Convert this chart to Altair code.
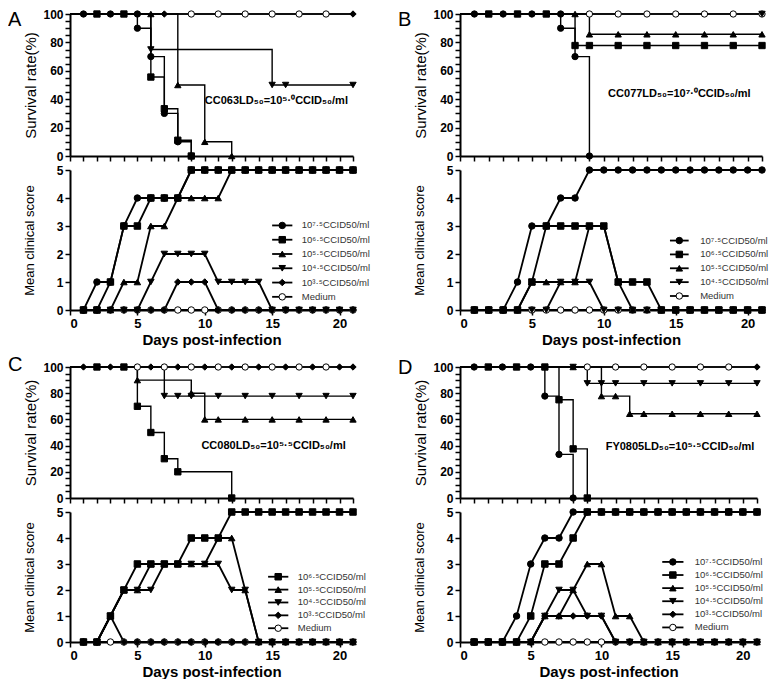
import altair as alt
import pandas as pd

DAYS = [1, 2, 3, 4, 5, 6, 7, 8, 9, 10, 11, 12, 13, 14, 15, 16, 17, 18, 19, 20, 21]
SERIES = ["7.5", "6.5", "5.5", "4.5", "3.5", "Medium"]
SHAPES = ["circle", "square", "triangle-up", "triangle-down", "diamond", "circle"]
FILLS = ["black", "black", "black", "black", "black", "white"]
LABELS = ["10⁷·⁵CCID50/ml", "10⁶·⁵CCID50/ml", "10⁵·⁵CCID50/ml",
          "10⁴·⁵CCID50/ml", "10³·⁵CCID50/ml", "Medium"]
X_TICKS = [0, 5, 10, 15, 20]
X_MINOR = list(range(0, 22))
Y_SURV_TICKS = [0, 5, 10, 15, 20, 25, 30, 35, 40, 45, 50, 55, 60, 65, 70, 75, 80, 85, 90, 95, 100]
Y_SCORE_TICKS = [0, 1, 2, 3, 4, 5]

# ---------------- Panel A: clinical scores ----------------
A_SC_75 = [0, 1, 1, 3, 4, 4, 4, 4, 5, 5, 5, 5, 5, 5, 5, 5, 5, 5, 5, 5, 5]
A_SC_65 = [0, 0, 1, 3, 3, 4, 4, 4, 5, 5, 5, 5, 5, 5, 5, 5, 5, 5, 5, 5, 5]
A_SC_55 = [0, 0, 0, 1, 1, 3, 3, 4, 4, 4, 4, 5, 5, 5, 5, 5, 5, 5, 5, 5, 5]
A_SC_45 = [0, 0, 0, 0, 0, 1, 2, 2, 2, 2, 1, 1, 1, 1, 0, 0, 0, 0, 0, 0, 0]
A_SC_35 = [0, 0, 0, 0, 0, 0, 0, 1, 1, 1, 0, 0, 0, 0, 0, 0, 0, 0, 0, 0, 0]
A_SC_MED = [0, 0, 0, 0, 0, 0, 0, 0, 0, 0, 0, 0, 0, 0, 0, 0, 0, 0, 0, 0, 0]
# Panel A: survival steps (day, %) and markers
A_SV_75 = ([0, 5, 6, 7, 8, 9], [100, 90, 70, 30, 10, 0])
A_SV_65 = ([0, 6, 7, 8, 9], [100, 55.6, 33.3, 11.1, 0])
A_SV_55 = ([0, 8, 10, 12], [100, 50, 10, 0])
A_SV_45 = ([0, 6, 15, 21], [100, 75, 50, 50])
A_SV_35 = ([0, 21], [100, 100])
A_SV_MED = ([0, 21], [100, 100])
A_MK_75 = ([1, 3, 5, 5, 6, 7, 8, 9], [100, 100, 100, 90, 70, 30, 10, 0])
A_MK_65 = ([2, 4, 6, 7, 8, 9], [100, 100, 55.6, 33.3, 11.1, 0])
A_MK_55 = ([6, 8, 10, 12], [100, 50, 10, 0])
A_MK_45 = ([6, 15, 16, 21], [75, 50, 50, 50])
A_MK_35 = ([7, 21], [100, 100])
A_MK_MED = ([9, 11, 13, 15, 17, 19], [100, 100, 100, 100, 100, 100])

# ---------------- Panel B ----------------
B_SC_75 = [0, 0, 0, 1, 3, 3, 4, 4, 5, 5, 5, 5, 5, 5, 5, 5, 5, 5, 5, 5, 5]
B_SC_65 = [0, 0, 0, 0, 1, 3, 3, 3, 3, 3, 1, 1, 1, 0, 0, 0, 0, 0, 0, 0, 0]
B_SC_55 = [0, 0, 0, 0, 1, 1, 1, 1, 3, 3, 1, 0, 0, 0, 0, 0, 0, 0, 0, 0, 0]
B_SC_45 = [0, 0, 0, 0, 0, 0, 1, 1, 1, 0, 0, 0, 0, 0, 0, 0, 0, 0, 0, 0, 0]
B_SC_MED = [0, 0, 0, 0, 0, 0, 0, 0, 0, 0, 0, 0, 0, 0, 0, 0, 0, 0, 0, 0, 0]
B_SV_75 = ([0, 7, 8, 9], [100, 90, 70, 0])
B_SV_65 = ([0, 8, 21], [100, 77.8, 77.8])
B_SV_55 = ([0, 9, 21], [100, 85.7, 85.7])
B_SV_45 = ([0, 21], [100, 100])
B_SV_MED = ([0, 21], [100, 100])
B_MK_75 = ([1, 3, 5, 7, 7, 8, 9], [100, 100, 100, 100, 90, 70, 0])
B_MK_65 = ([2, 4, 6, 8, 9, 11, 13, 15, 17, 19, 21], [100, 100, 100, 77.8, 77.8, 77.8, 77.8, 77.8, 77.8, 77.8, 77.8])
B_MK_55 = ([8, 9, 11, 13, 15, 17, 19, 21], [100, 85.7, 85.7, 85.7, 85.7, 85.7, 85.7, 85.7])
B_MK_45 = ([21], [100])
B_MK_MED = ([9, 11, 13, 15, 17, 19, 21], [100, 100, 100, 100, 100, 100, 100])

# ---------------- Panel C ----------------
C_SC_65 = [0, 0, 1, 2, 3, 3, 3, 3, 4, 4, 4, 5, 5, 5, 5, 5, 5, 5, 5, 5, 5]
C_SC_55 = [0, 0, 1, 2, 2, 3, 3, 3, 3, 3, 4, 4, 2, 0, 0, 0, 0, 0, 0, 0, 0]
C_SC_45 = [0, 0, 1, 2, 2, 2, 3, 3, 3, 3, 3, 2, 2, 0, 0, 0, 0, 0, 0, 0, 0]
C_SC_35 = [0, 0, 1, 0, 0, 0, 0, 0, 0, 0, 0, 0, 0, 0, 0, 0, 0, 0, 0, 0, 0]
C_SC_MED = [0, 0, 0, 0, 0, 0, 0, 0, 0, 0, 0, 0, 0, 0, 0, 0, 0, 0, 0, 0, 0]
C_SV_65 = ([0, 5, 6, 7, 8, 12], [100, 70, 50, 30, 20, 0])
C_SV_55 = ([0, 5, 9, 10, 21], [100, 90, 80, 60, 60])
C_SV_45 = ([0, 7, 21], [100, 77.8, 77.8])
C_SV_35 = ([0, 21], [100, 100])
C_SV_MED = ([0, 21], [100, 100])
C_MK_65 = ([2, 4, 5, 6, 7, 8, 12], [100, 100, 70, 50, 30, 20, 0])
C_MK_55 = ([5, 9, 10, 11, 13, 15, 17, 19, 21], [90, 80, 60, 60, 60, 60, 60, 60, 60])
C_MK_45 = ([7, 8, 9, 11, 13, 15, 17, 19, 21], [77.8, 77.8, 77.8, 77.8, 77.8, 77.8, 77.8, 77.8, 77.8])
C_MK_35 = ([1, 3, 6, 8, 10, 12, 14, 16, 18, 20, 21], [100, 100, 100, 100, 100, 100, 100, 100, 100, 100, 100])
C_MK_MED = ([5, 7, 9, 11, 13, 15, 17, 19], [100, 100, 100, 100, 100, 100, 100, 100])

# ---------------- Panel D ----------------
D_SC_75 = [0, 0, 0, 1, 3, 4, 4, 5, 5, 5, 5, 5, 5, 5, 5, 5, 5, 5, 5, 5, 5]
D_SC_65 = [0, 0, 0, 0, 1, 3, 3, 4, 5, 5, 5, 5, 5, 5, 5, 5, 5, 5, 5, 5, 5]
D_SC_55 = [0, 0, 0, 0, 0, 1, 1, 2, 3, 3, 1, 1, 0, 0, 0, 0, 0, 0, 0, 0, 0]
D_SC_45 = [0, 0, 0, 0, 0, 1, 2, 2, 1, 1, 0, 0, 0, 0, 0, 0, 0, 0, 0, 0, 0]
D_SC_35 = [0, 0, 0, 0, 0, 1, 1, 1, 1, 1, 0, 0, 0, 0, 0, 0, 0, 0, 0, 0, 0]
D_SC_MED = [0, 0, 0, 0, 0, 0, 0, 0, 0, 0, 0, 0, 0, 0, 0, 0, 0, 0, 0, 0, 0]
D_SV_75 = ([0, 6, 7, 8], [100, 77.8, 33.3, 0])
D_SV_65 = ([0, 7, 8, 9], [100, 75, 37.5, 0])
D_SV_55 = ([0, 10, 12, 21], [100, 77.8, 64.3, 64.3])
D_SV_45 = ([0, 9, 21], [100, 87.5, 87.5])
D_SV_35 = ([0, 21], [100, 100])
D_SV_MED = ([0, 21], [100, 100])
D_MK_75 = ([1, 3, 5, 6, 7, 8], [100, 100, 100, 77.8, 33.3, 0])
D_MK_65 = ([2, 4, 6, 7, 8, 9], [100, 100, 100, 75, 37.5, 0])
D_MK_55 = ([8, 10, 11, 12, 13, 15, 17, 19, 21], [100, 77.8, 77.8, 64.3, 64.3, 64.3, 64.3, 64.3, 64.3])
D_MK_45 = ([8, 9, 10, 11, 13, 15, 17, 19, 21], [100, 87.5, 87.5, 87.5, 87.5, 87.5, 87.5, 87.5, 87.5])
D_MK_35 = ([21], [100])
D_MK_MED = ([9, 11, 13, 15, 17, 19], [100, 100, 100, 100, 100, 100])

NOTES = ["CC063LD₅₀=10⁵·⁰CCID₅₀/ml", "CC077LD₅₀=10⁷·⁰CCID₅₀/ml",
         "CC080LD₅₀=10⁵·⁵CCID₅₀/ml", "FY0805LD₅₀=10⁵·⁵CCID₅₀/ml"]

FONT = "Liberation Sans"
SHAPE_SCALE = alt.Scale(domain=SERIES, range=SHAPES)
FILL_SCALE = alt.Scale(domain=SERIES, range=FILLS)
X_SCALE = alt.Scale(domain=[0, 21], nice=False, zero=False)


def score_df(pairs):
    rows = []
    for name, vals in pairs:
        for d, v in zip(DAYS, vals):
            rows.append({"series": name, "day": d, "score": v})
    return pd.DataFrame(rows)


def xy_df(pairs, yname):
    rows = []
    for name, (ds, ps) in pairs:
        for k, (d, p) in enumerate(zip(ds, ps)):
            rows.append({"series": name, "day": d, yname: p, "ord": k})
    return pd.DataFrame(rows)


def panel(letter, note, note_pos, sv_pairs, mk_pairs, sc_pairs, leg_series, leg, w, h_sv, h_sc, gap, letter_y):
    ax_sv_x = alt.Axis(values=X_MINOR, labels=False, title=None, tickSize=5, grid=False)
    ax_sv_y = alt.Axis(values=Y_SURV_TICKS, title="Survival rate(%)", titleFontSize=15,
                       titleFontWeight="normal", titleX=-32, tickSize=5, labelOverlap=False,
                       labelExpr="datum.value % 20 === 0 ? datum.label : ''", grid=False)
    ax_sc_x = alt.Axis(values=X_TICKS, title="Days post-infection", titleFontSize=15,
                       titleFontWeight="bold", titlePadding=2, labelFontSize=13, tickSize=5, grid=False)
    ax_sc_y = alt.Axis(values=Y_SCORE_TICKS, title="Mean clinical score", titleFontSize=13,
                       titleFontWeight="normal", titleX=-34, tickSize=5, grid=False)
    ys = alt.Scale(domain=[0, 100], nice=False)
    ysc = alt.Scale(domain=[0, 5], nice=False)

    sv = xy_df(sv_pairs, "pct")
    mk = xy_df(mk_pairs, "pct")
    sv_line = alt.Chart(sv).mark_line(interpolate="step-after", color="black", strokeWidth=1.4).encode(
        x=alt.X("day:Q", scale=X_SCALE, axis=ax_sv_x),
        y=alt.Y("pct:Q", scale=ys, axis=ax_sv_y),
        detail="series:N", order="ord:Q")
    sv_pts = alt.Chart(mk).mark_point(filled=True, opacity=1, stroke="black", strokeWidth=1, size=40).encode(
        x=alt.X("day:Q", scale=X_SCALE, axis=ax_sv_x),
        y=alt.Y("pct:Q", scale=ys, axis=ax_sv_y),
        shape=alt.Shape("series:N", scale=SHAPE_SCALE, legend=None),
        fill=alt.Fill("series:N", scale=FILL_SCALE, legend=None))
    note_df = pd.DataFrame({"t": [note], "day": [note_pos[0]], "pct": [note_pos[1]]})
    note_ch = alt.Chart(note_df).mark_text(align="left", baseline="middle", font=FONT, fontSize=11,
                                           fontWeight="bold", color="black").encode(
        x=alt.X("day:Q", scale=X_SCALE, axis=ax_sv_x),
        y=alt.Y("pct:Q", scale=ys, axis=ax_sv_y), text="t:N")
    let_ch = alt.Chart(pd.DataFrame({"t": [letter]})).mark_text(
        align="left", baseline="alphabetic", font=FONT, fontSize=20, color="black").encode(
        x=alt.value(-62), y=alt.value(letter_y), text="t:N")
    top = alt.layer(sv_line, sv_pts, note_ch, let_ch).properties(width=w, height=h_sv)

    sc = score_df(sc_pairs)
    sc_line = alt.Chart(sc).mark_line(color="black", strokeWidth=1.8).encode(
        x=alt.X("day:Q", scale=X_SCALE, axis=ax_sc_x),
        y=alt.Y("score:Q", scale=ysc, axis=ax_sc_y),
        detail="series:N", order="day:Q")
    sc_pts = alt.Chart(sc).mark_point(filled=True, opacity=1, stroke="black", strokeWidth=1, size=42).encode(
        x=alt.X("day:Q", scale=X_SCALE, axis=ax_sc_x),
        y=alt.Y("score:Q", scale=ysc, axis=ax_sc_y),
        shape=alt.Shape("series:N", scale=SHAPE_SCALE, legend=None),
        fill=alt.Fill("series:N", scale=FILL_SCALE, legend=None))

    ly0, lstep, lx1, lx2, ltx = leg
    leg_df = pd.DataFrame({"series": leg_series,
                           "label": [LABELS[SERIES.index(s)] for s in leg_series],
                           "i": list(range(len(leg_series)))})
    base = alt.Chart(leg_df).transform_calculate(
        score=f"{ly0} - datum.i * {lstep}", x1=f"{lx1}", x2=f"{lx2}",
        xm=f"{(lx1 + lx2) / 2}", xt=f"{ltx}")
    leg_rule = base.mark_rule(color="black", strokeWidth=1.8).encode(
        x=alt.X("x1:Q", scale=X_SCALE, axis=ax_sc_x), x2="x2:Q",
        y=alt.Y("score:Q", scale=ysc, axis=ax_sc_y))
    leg_pts = base.mark_point(filled=True, opacity=1, stroke="black", strokeWidth=1, size=42).encode(
        x=alt.X("xm:Q", scale=X_SCALE, axis=ax_sc_x),
        y=alt.Y("score:Q", scale=ysc, axis=ax_sc_y),
        shape=alt.Shape("series:N", scale=SHAPE_SCALE, legend=None),
        fill=alt.Fill("series:N", scale=FILL_SCALE, legend=None))
    leg_txt = base.mark_text(align="left", baseline="middle", font=FONT, fontSize=9.5, color="#333").encode(
        x=alt.X("xt:Q", scale=X_SCALE, axis=ax_sc_x),
        y=alt.Y("score:Q", scale=ysc, axis=ax_sc_y), text="label:N")
    bottom = alt.layer(sc_line, sc_pts, leg_rule, leg_pts, leg_txt).properties(width=w, height=h_sc)
    return alt.vconcat(top, bottom, spacing=gap, bounds="flush")


pA = panel("A", NOTES[0], (10, 39),
           [("Medium", A_SV_MED), ("3.5", A_SV_35), ("4.5", A_SV_45), ("5.5", A_SV_55), ("6.5", A_SV_65), ("7.5", A_SV_75)],
           [("Medium", A_MK_MED), ("3.5", A_MK_35), ("4.5", A_MK_45), ("5.5", A_MK_55), ("6.5", A_MK_65), ("7.5", A_MK_75)],
           [("Medium", A_SC_MED), ("3.5", A_SC_35), ("4.5", A_SC_45), ("5.5", A_SC_55), ("6.5", A_SC_65), ("7.5", A_SC_75)],
           SERIES, (3.02, 0.51, 15.0, 16.5, 17.2), 283, 142, 140, 14, 12)
pB = panel("B", NOTES[1], (10.3, 44),
           [("Medium", B_SV_MED), ("4.5", B_SV_45), ("5.5", B_SV_55), ("6.5", B_SV_65), ("7.5", B_SV_75)],
           [("Medium", B_MK_MED), ("4.5", B_MK_45), ("5.5", B_MK_55), ("6.5", B_MK_65), ("7.5", B_MK_75)],
           [("Medium", B_SC_MED), ("4.5", B_SC_45), ("5.5", B_SC_55), ("6.5", B_SC_65), ("7.5", B_SC_75)],
           ["7.5", "6.5", "5.5", "4.5", "Medium"], (2.48, 0.495, 14.6, 15.9, 16.7), 302, 142, 140, 14, 12)
pC = panel("C", NOTES[2], (9.75, 40),
           [("Medium", C_SV_MED), ("3.5", C_SV_35), ("4.5", C_SV_45), ("5.5", C_SV_55), ("6.5", C_SV_65)],
           [("Medium", C_MK_MED), ("3.5", C_MK_35), ("4.5", C_MK_45), ("5.5", C_MK_55), ("6.5", C_MK_65)],
           [("Medium", C_SC_MED), ("3.5", C_SC_35), ("4.5", C_SC_45), ("5.5", C_SC_55), ("6.5", C_SC_65)],
           ["6.5", "5.5", "4.5", "3.5", "Medium"], (2.51, 0.495, 14.7, 16.2, 16.9), 283, 131, 130, 14, 4)
pD = panel("D", NOTES[3], (10.3, 39),
           [("Medium", D_SV_MED), ("3.5", D_SV_35), ("4.5", D_SV_45), ("5.5", D_SV_55), ("6.5", D_SV_65), ("7.5", D_SV_75)],
           [("Medium", D_MK_MED), ("3.5", D_MK_35), ("4.5", D_MK_45), ("5.5", D_MK_55), ("6.5", D_MK_65), ("7.5", D_MK_75)],
           [("Medium", D_SC_MED), ("3.5", D_SC_35), ("4.5", D_SC_45), ("5.5", D_SC_55), ("6.5", D_SC_65), ("7.5", D_SC_75)],
           SERIES, (3.08, 0.504, 14.3, 15.8, 16.6), 297, 131, 130, 14, 7)

row1 = alt.hconcat(pA, pB, spacing=28)
row2 = alt.hconcat(pC, pD, spacing=32)
chart = alt.vconcat(row1, row2, spacing=8).properties(
    padding={"left": 0, "top": 0, "right": 0, "bottom": 0}
).configure_view(stroke=None).configure_axis(
    domainColor="black", domainWidth=2, tickColor="black", tickWidth=1.5,
    labelFont=FONT, labelFontWeight="bold", labelFontSize=12, labelColor="black",
    titleFont=FONT, titleColor="black", labelPadding=2
)

chart.save("out.html", embed_options={"renderer": "svg", "actions": False})
